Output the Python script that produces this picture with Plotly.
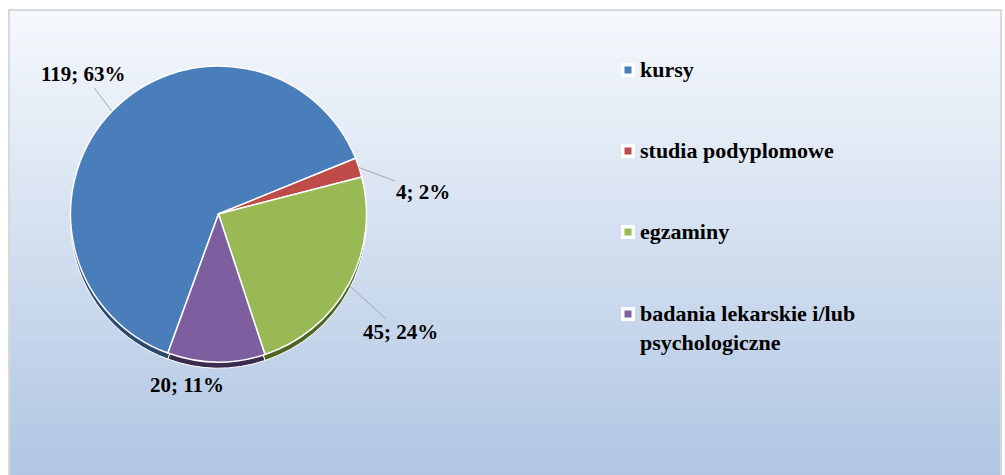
import math
import plotly.graph_objects as go

# ---- data ----
labels = ["kursy", "studia podyplomowe", "egzaminy", "badania lekarskie i/lub psychologiczne"]
legend_text = ["kursy", "studia podyplomowe", "egzaminy", "badania lekarskie i/lub<br>psychologiczne"]
values = [119, 4, 45, 20]
colors = ["#4A7EBB", "#BE4B48", "#98B954", "#7D5FA0"]
shadow_colors = ["#2B4A70", "#722B29", "#4F6526", "#3A2C4E"]

# ---- layout geometry (pixels) ----
W, H = 1005, 475
cx, cy, R = 218.5, 214, 148
start_angle = 200  # clockwise from 12 o'clock
label_dx = [-28, 64, 52, -29]
label_dy = [-37, 24, 47, 23]
show_leader = [True, True, True, False]
legend_x = 628
legend_y = [70, 151, 232, 314]

FONT = "Liberation Serif"


def px(x):
    return x / W


def py(y):
    return 1 - y / H


total = sum(values)

fig = go.Figure()

dom_x = [px(cx - R), px(cx + R)]
dom_y = [py(cy + R), py(cy - R)]
shift = 6 / H

# shadow / 3D edge
fig.add_trace(go.Pie(
    labels=labels, values=values, sort=False, direction="clockwise",
    rotation=start_angle, textinfo="none", hoverinfo="skip",
    marker=dict(colors=shadow_colors, line=dict(color="white", width=1)),
    domain=dict(x=dom_x, y=[dom_y[0] - shift, dom_y[1] - shift]),
    showlegend=False,
))
# main pie
fig.add_trace(go.Pie(
    labels=labels, values=values, sort=False, direction="clockwise",
    rotation=start_angle, textinfo="none",
    marker=dict(colors=colors, line=dict(color="white", width=1.5)),
    domain=dict(x=dom_x, y=dom_y),
    showlegend=False,
))

shapes = []
# gradient background inside the frame
top, bottom = 11, H + 2
n = 80
c0 = (245, 248, 252)
c1 = (176, 198, 227)
for i in range(n):
    t = i / (n - 1)
    col = tuple(round(c0[k] + (c1[k] - c0[k]) * t) for k in range(3))
    y0 = top + (bottom - top) * i / n
    y1 = top + (bottom - top) * (i + 1) / n + 0.6
    shapes.append(dict(type="rect", xref="paper", yref="paper", layer="below",
                       x0=px(9), x1=px(1001), y0=py(y0), y1=py(y1),
                       line=dict(width=0), fillcolor="rgb(%d,%d,%d)" % col))
# frame
shapes.append(dict(type="rect", xref="paper", yref="paper", layer="below",
                   x0=px(9), x1=px(1001), y0=py(10), y1=py(H + 5),
                   line=dict(color="#D9D9D9", width=2), fillcolor="rgba(0,0,0,0)"))

annotations = []
# data labels
cum = 0
for i, v in enumerate(values):
    mid = math.radians(start_angle + (cum + v / 2) / total * 360)
    cum += v
    ex = cx + R * math.sin(mid)
    ey = cy - R * math.cos(mid)
    txt = "%d; %d%%" % (v, round(100 * v / total))
    if show_leader[i]:
        annotations.append(dict(
            x=px(ex), y=py(ey), xref="paper", yref="paper", text="<b>%s</b>" % txt,
            showarrow=True, arrowhead=0, arrowwidth=1, arrowcolor="#A6A6A6",
            ax=label_dx[i], ay=label_dy[i], standoff=0,
            font=dict(family=FONT, size=21, color="black"),
        ))
    else:
        annotations.append(dict(
            x=px(ex + label_dx[i]), y=py(ey + label_dy[i]), xref="paper", yref="paper",
            text="<b>%s</b>" % txt, showarrow=False, xanchor="center", yanchor="middle",
            font=dict(family=FONT, size=21, color="black"),
        ))

# custom legend
for i, t in enumerate(legend_text):
    ly = legend_y[i]
    shapes.append(dict(type="rect", xref="paper", yref="paper",
                       x0=px(legend_x - 7), x1=px(legend_x + 7), y0=py(ly + 7), y1=py(ly - 7),
                       line=dict(width=0), fillcolor="white"))
    shapes.append(dict(type="rect", xref="paper", yref="paper",
                       x0=px(legend_x - 3.5), x1=px(legend_x + 3.5), y0=py(ly + 3.5), y1=py(ly - 3.5),
                       line=dict(width=0), fillcolor=colors[i]))
    annotations.append(dict(
        x=px(legend_x + 10), y=py(ly - 15.5), xref="paper", yref="paper",
        text="<b>%s</b>" % t.replace("<br>", "</b><br><b>"),
        showarrow=False, xanchor="left", yanchor="top", align="left",
        font=dict(family=FONT, size=22, color="black"),
    ))

fig.update_layout(
    width=W, height=H,
    margin=dict(l=0, r=0, t=0, b=0),
    paper_bgcolor="white", plot_bgcolor="white",
    shapes=shapes, annotations=annotations,
    showlegend=False,
)

fig.write_html(
    "out.html",
    config={"displayModeBar": False},
    post_script="document.body.style.margin='0';document.body.style.overflow='hidden';",
)
